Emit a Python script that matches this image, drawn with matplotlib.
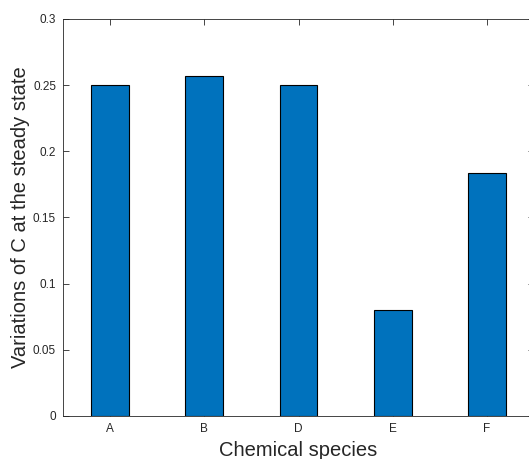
import matplotlib
matplotlib.use('Agg')
import matplotlib.pyplot as plt
from matplotlib import rcParams

rcParams['font.family'] = ['Liberation Sans', 'DejaVu Sans']

species = ['A', 'B', 'D', 'E', 'F']
variations = [0.250, 0.257, 0.250, 0.080, 0.184]

fig = plt.figure(figsize=(5.29, 4.59), dpi=100)
# axes run slightly past the right edge of the figure, as in the reference
ax = fig.add_axes([63 / 529, 43 / 459, 471 / 529, 397 / 459])

pos = list(range(1, len(species) + 1))
ax.bar(pos, variations, width=0.4, color='#0072BD', edgecolor='black', linewidth=0.8, zorder=2)

ax.set_xlim(0.5, len(species) + 0.5)
ax.set_ylim(0, 0.3)
ax.set_xticks(pos)
ax.set_xticklabels(species)
ax.set_yticks([0, 0.05, 0.1, 0.15, 0.2, 0.25, 0.3])
ax.set_yticklabels(['0', '0.05', '0.1', '0.15', '0.2', '0.25', '0.3'])

ax.tick_params(direction='in', length=4, width=0.6, color='#262626', labelcolor='#262626',
               labelsize=8.5, top=True, right=True, pad=5)
ax.tick_params(axis='x', pad=5)
for sp in ax.spines.values():
    sp.set_color('#262626')
    sp.set_linewidth(0.6)
    sp.set_zorder(3)

ax.set_xlabel('Chemical species', fontsize=14.5, color='#262626', labelpad=4)
ax.set_ylabel('Variations of C at the steady state', fontsize=14.5, color='#262626', labelpad=2)

fig.savefig('out.png', dpi=100)
